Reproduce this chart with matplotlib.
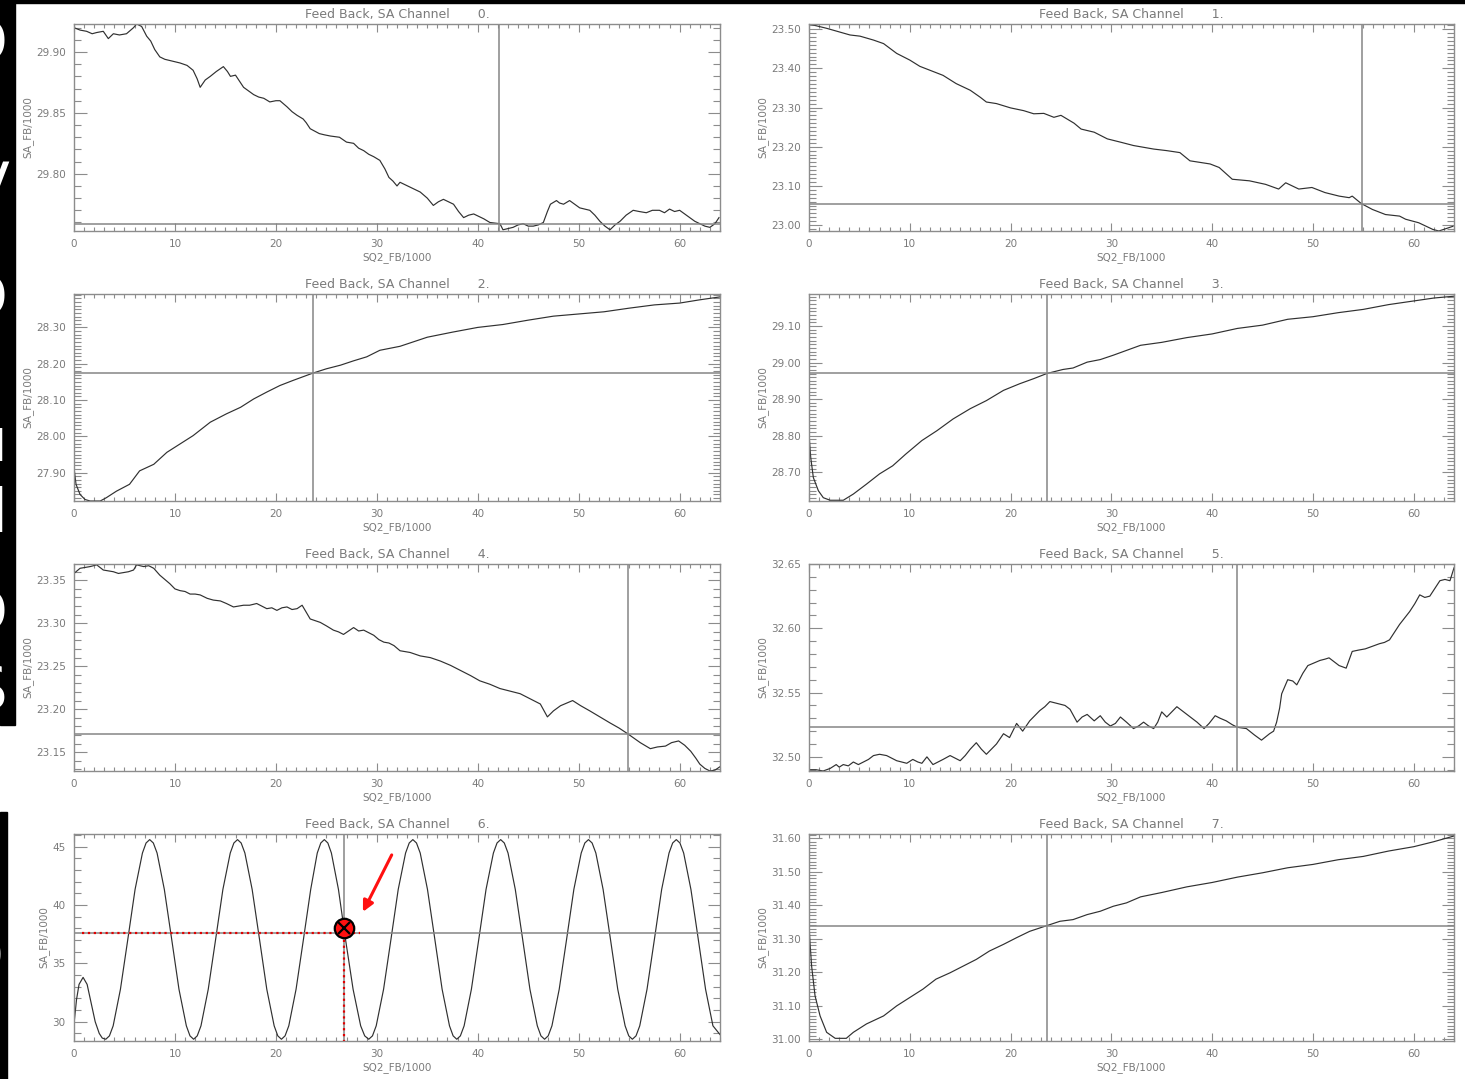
import matplotlib
matplotlib.use("Agg")
import matplotlib.pyplot as plt
from matplotlib.ticker import MultipleLocator, FormatStrFormatter
from matplotlib.patches import Rectangle

# read-off points (SQ2_FB/1000, SA_FB/1000) for each channel
channel0 = [(0, 29.920), (0.6, 29.918), (1.25, 29.917), (1.8, 29.915), (2.25, 29.916), (2.9, 29.917),
            (3.4, 29.911), (3.9, 29.915), (4.5, 29.914), (5.2, 29.915), (5.9, 29.920), (6.2, 29.923),
            (6.7, 29.921), (7.2, 29.913), (7.6, 29.909), (8.0, 29.902), (8.5, 29.896), (9.0, 29.894),
            (9.5, 29.893), (10.0, 29.892), (10.5, 29.891), (11.2, 29.889), (11.8, 29.885), (12.2, 29.878),
            (12.5, 29.871), (13.0, 29.877), (13.5, 29.880), (14.1, 29.884), (14.8, 29.888), (15.2, 29.884),
            (15.5, 29.880), (16.0, 29.881), (16.4, 29.876), (16.8, 29.871), (17.3, 29.868), (17.8, 29.865),
            (18.3, 29.863), (18.8, 29.862), (19.4, 29.859), (20.0, 29.860), (20.4, 29.860), (21.1, 29.855),
            (21.6, 29.851), (22.1, 29.848), (22.7, 29.845), (23.0, 29.842), (23.4, 29.837), (24.3, 29.833),
            (24.8, 29.832), (25.4, 29.831), (26.3, 29.830), (27.0, 29.826), (27.7, 29.825), (28.2, 29.821),
            (28.7, 29.819), (29.2, 29.816), (29.7, 29.814), (30.3, 29.811), (30.8, 29.804), (31.2, 29.797),
            (31.6, 29.794), (32.0, 29.790), (32.3, 29.793), (32.8, 29.791), (33.3, 29.789), (34.3, 29.785),
            (35.0, 29.780), (35.6, 29.774), (36.1, 29.777), (36.6, 29.779), (37.1, 29.777), (37.6, 29.775),
            (38.1, 29.769), (38.6, 29.764), (39.1, 29.766), (39.6, 29.767), (40.1, 29.765), (40.6, 29.763),
            (41.2, 29.760), (42.2, 29.759), (42.5, 29.754), (43.0, 29.755), (43.5, 29.756), (44.0, 29.758),
            (44.5, 29.759), (45.0, 29.757), (45.5, 29.757), (46.0, 29.758), (46.5, 29.760), (46.9, 29.769),
            (47.2, 29.775), (47.8, 29.778), (48.1, 29.776), (48.5, 29.775), (49.1, 29.778), (49.6, 29.775),
            (50.1, 29.772), (50.6, 29.771), (51.1, 29.770), (51.6, 29.766), (52.1, 29.761), (52.6, 29.757),
            (53.1, 29.754), (53.6, 29.758), (54.1, 29.761), (54.7, 29.766), (55.4, 29.770), (56.0, 29.769),
            (56.7, 29.768), (57.3, 29.770), (58.0, 29.770), (58.5, 29.768), (59.0, 29.771), (59.5, 29.769),
            (60.0, 29.770), (60.5, 29.767), (61.0, 29.764), (61.5, 29.761), (62.0, 29.759), (62.5, 29.757),
            (63.0, 29.756), (63.5, 29.759), (63.9, 29.764)]

channel1 = [(0, 23.513), (1.75, 23.502), (4.07, 23.485), (5.06, 23.482), (6.4, 23.472), (7.4, 23.463),
            (8.7, 23.438), (10.0, 23.421), (11.0, 23.405), (12.0, 23.395), (13.3, 23.382), (14.6, 23.361),
            (16.0, 23.344), (17.0, 23.326), (17.6, 23.314), (18.6, 23.310), (20.0, 23.299), (21.3, 23.292),
            (22.3, 23.284), (23.3, 23.285), (24.3, 23.275), (25.0, 23.280), (26.3, 23.260), (27.0, 23.245),
            (28.3, 23.237), (29.6, 23.220), (31.0, 23.211), (32.2, 23.203), (34.2, 23.194), (35.5, 23.190),
            (36.8, 23.185), (37.8, 23.164), (39.8, 23.156), (40.7, 23.147), (42.0, 23.117), (43.7, 23.113),
            (45.3, 23.104), (46.6, 23.092), (47.3, 23.108), (48.6, 23.092), (49.9, 23.096), (51.2, 23.083),
            (52.6, 23.074), (53.6, 23.070), (53.9, 23.074), (54.8, 23.055), (55.9, 23.040), (57.2, 23.027),
            (58.6, 23.023), (59.2, 23.015), (60.5, 23.006), (61.9, 22.989), (62.5, 22.985), (63.9, 22.997)]

channel2 = [(0, 27.914), (0.2, 27.868), (0.6, 27.840), (1.1, 27.826), (1.6, 27.822), (2.6, 27.822),
            (3.2, 27.831), (4.2, 27.849), (5.5, 27.868), (6.5, 27.905), (7.9, 27.923), (9.2, 27.956),
            (10.5, 27.979), (11.8, 28.002), (13.5, 28.039), (15.1, 28.062), (16.5, 28.080), (17.8, 28.103),
            (19.1, 28.122), (20.4, 28.140), (21.7, 28.154), (23.65, 28.174), (25.0, 28.186), (26.4, 28.196),
            (27.7, 28.208), (29.0, 28.219), (30.3, 28.237), (32.3, 28.248), (35.0, 28.273), (37.5, 28.287),
            (40.0, 28.300), (42.5, 28.308), (45.0, 28.320), (47.5, 28.331), (50.0, 28.337), (52.5, 28.343),
            (55.0, 28.353), (57.5, 28.362), (60.0, 28.367), (62.0, 28.376), (64.0, 28.384)]

channel3 = [(0, 28.805), (0.17, 28.741), (0.43, 28.686), (0.93, 28.650), (1.42, 28.631), (2.1, 28.624),
            (3.4, 28.624), (4.4, 28.641), (5.7, 28.668), (7.0, 28.696), (8.3, 28.718), (9.6, 28.750),
            (11.2, 28.787), (12.7, 28.814), (14.3, 28.846), (16.0, 28.874), (17.6, 28.896), (19.3, 28.924),
            (20.9, 28.942), (22.3, 28.956), (23.6, 28.970), (25.2, 28.981), (26.2, 28.985), (27.6, 29.001),
            (28.9, 29.008), (30.2, 29.020), (31.5, 29.033), (32.9, 29.047), (35.0, 29.055), (37.5, 29.068),
            (40.0, 29.078), (42.5, 29.093), (45.0, 29.102), (47.5, 29.118), (50.0, 29.125), (52.5, 29.136),
            (55.0, 29.145), (57.5, 29.158), (60.0, 29.168), (62.0, 29.176), (64.0, 29.181)]

channel4 = [(0, 23.358), (0.6, 23.364), (1.6, 23.366), (2.25, 23.368), (2.9, 23.362), (3.4, 23.361),
            (3.9, 23.360), (4.4, 23.358), (4.9, 23.359), (5.4, 23.360), (5.9, 23.362), (6.2, 23.368),
            (6.9, 23.366), (7.4, 23.367), (7.9, 23.364), (8.5, 23.356), (9.0, 23.351), (9.5, 23.346),
            (10.0, 23.340), (10.5, 23.338), (11.0, 23.337), (11.5, 23.334), (12.0, 23.334), (12.5, 23.333),
            (13.2, 23.329), (13.8, 23.327), (14.5, 23.326), (15.1, 23.323), (15.8, 23.319), (16.3, 23.320),
            (16.8, 23.321), (17.4, 23.321), (18.1, 23.323), (18.6, 23.320), (19.1, 23.317), (19.6, 23.318),
            (20.1, 23.315), (20.6, 23.318), (21.1, 23.319), (21.6, 23.316), (22.1, 23.317), (22.6, 23.321),
            (23.0, 23.313), (23.4, 23.305), (23.9, 23.303), (24.4, 23.301), (25.0, 23.297), (25.7, 23.292),
            (26.2, 23.290), (26.7, 23.287), (27.2, 23.291), (27.7, 23.295), (28.2, 23.291), (28.7, 23.292),
            (29.2, 23.289), (29.7, 23.286), (30.2, 23.281), (30.7, 23.278), (31.2, 23.277), (31.7, 23.274),
            (32.3, 23.268), (33.3, 23.266), (34.3, 23.262), (35.3, 23.260), (36.3, 23.256), (37.3, 23.251),
            (38.3, 23.245), (39.3, 23.239), (40.2, 23.233), (41.2, 23.229), (42.2, 23.224), (43.2, 23.221),
            (44.2, 23.218), (45.2, 23.212), (46.2, 23.206), (46.9, 23.191), (47.5, 23.198), (48.2, 23.204),
            (48.8, 23.207), (49.4, 23.210), (50.2, 23.204), (51.1, 23.198), (52.1, 23.191), (53.1, 23.184),
            (54.0, 23.178), (54.9, 23.171), (55.5, 23.166), (56.1, 23.161), (57.1, 23.154), (57.8, 23.156),
            (58.6, 23.157), (59.2, 23.161), (59.9, 23.163), (60.5, 23.158), (61.1, 23.151), (61.6, 23.143),
            (62.0, 23.136), (62.5, 23.131), (63.0, 23.128), (63.5, 23.129), (64.0, 23.133)]

channel5 = [(0, 32.490), (0.7, 32.490), (1.4, 32.489), (2.1, 32.491), (2.7, 32.494), (3.0, 32.492),
            (3.4, 32.494), (3.9, 32.493), (4.4, 32.496), (4.9, 32.494), (5.4, 32.496), (5.9, 32.498),
            (6.4, 32.501), (7.0, 32.502), (7.7, 32.501), (8.2, 32.499), (8.7, 32.497), (9.2, 32.496),
            (9.7, 32.495), (10.3, 32.498), (10.8, 32.496), (11.2, 32.495), (11.7, 32.500), (12.3, 32.494),
            (12.8, 32.496), (13.3, 32.498), (14.0, 32.501), (14.5, 32.499), (15.0, 32.497), (15.5, 32.501),
            (16.0, 32.506), (16.6, 32.511), (17.1, 32.506), (17.6, 32.502), (18.1, 32.506), (18.6, 32.510),
            (19.3, 32.518), (19.9, 32.515), (20.6, 32.526), (21.2, 32.520), (21.9, 32.528), (22.4, 32.532),
            (22.9, 32.536), (23.4, 32.539), (23.9, 32.543), (24.4, 32.542), (24.9, 32.541), (25.4, 32.540),
            (25.9, 32.537), (26.6, 32.527), (27.1, 32.531), (27.6, 32.533), (28.3, 32.528), (28.9, 32.532),
            (29.4, 32.527), (29.9, 32.524), (30.4, 32.526), (30.9, 32.531), (31.5, 32.527), (32.2, 32.522),
            (32.7, 32.524), (33.2, 32.527), (33.7, 32.524), (34.2, 32.522), (34.6, 32.527), (35.0, 32.535),
            (35.5, 32.531), (36.0, 32.535), (36.5, 32.539), (37.0, 32.536), (37.5, 32.533), (38.0, 32.530),
            (38.5, 32.527), (39.2, 32.522), (39.7, 32.526), (40.3, 32.532), (40.8, 32.530), (41.4, 32.528),
            (42.0, 32.525), (42.5, 32.523), (43.4, 32.522), (44.2, 32.517), (44.9, 32.513), (45.7, 32.518),
            (46.1, 32.520), (46.4, 32.527), (46.7, 32.538), (46.9, 32.549), (47.5, 32.560), (48.0, 32.559),
            (48.4, 32.556), (49.0, 32.565), (49.5, 32.571), (50.1, 32.573), (50.7, 32.575), (51.2, 32.576),
            (51.6, 32.577), (52.1, 32.574), (52.6, 32.571), (53.3, 32.569), (53.9, 32.582), (54.5, 32.583),
            (55.2, 32.584), (55.9, 32.586), (56.6, 32.588), (57.1, 32.589), (57.6, 32.591), (58.1, 32.597),
            (58.6, 32.603), (59.1, 32.608), (59.6, 32.613), (60.1, 32.619), (60.6, 32.626), (61.1, 32.624),
            (61.6, 32.625), (62.1, 32.631), (62.6, 32.637), (63.1, 32.638), (63.6, 32.637), (64.0, 32.647)]

channel6 = [(0, 29.8), (0.25, 31.9), (0.5, 33.2), (0.9, 33.8), (1.3, 33.2), (1.7, 31.6), (2.1, 30.0),
            (2.5, 29.0), (2.8, 28.6), (3.15, 28.5), (3.51, 28.79), (3.88, 29.65), (4.6, 32.78),
            (5.33, 37.05), (6.05, 41.33), (6.78, 44.45), (7.14, 45.31), (7.5, 45.6), (7.86, 45.31),
            (8.23, 44.45), (8.95, 41.33), (9.68, 37.05), (10.4, 32.78), (11.13, 29.65), (11.49, 28.79),
            (11.85, 28.5), (12.21, 28.79), (12.58, 29.65), (13.3, 32.78), (14.03, 37.05), (14.75, 41.33),
            (15.48, 44.45), (15.84, 45.31), (16.2, 45.6), (16.56, 45.31), (16.93, 44.45), (17.65, 41.33),
            (18.38, 37.05), (19.1, 32.78), (19.83, 29.65), (20.19, 28.79), (20.55, 28.5), (20.91, 28.79),
            (21.28, 29.65), (22.0, 32.78), (22.73, 37.05), (23.45, 41.33), (24.1, 44.45), (24.45, 45.31),
            (24.8, 45.6), (25.15, 45.31), (25.5, 44.45), (26.2, 41.33), (26.9, 37.05), (27.65, 32.78),
            (28.4, 29.65), (28.8, 28.79), (29.2, 28.5), (29.57, 28.79), (29.94, 29.65), (30.67, 32.78),
            (31.4, 37.05), (32.12, 41.33), (32.85, 44.45), (33.21, 45.31), (33.57, 45.6), (33.93, 45.31),
            (34.3, 44.45), (35.02, 41.33), (35.75, 37.05), (36.47, 32.78), (37.2, 29.65), (37.56, 28.79),
            (37.92, 28.5), (38.28, 28.79), (38.65, 29.65), (39.37, 32.78), (40.1, 37.05), (40.82, 41.33),
            (41.55, 44.45), (41.91, 45.31), (42.27, 45.6), (42.63, 45.31), (43.0, 44.45), (43.72, 41.33),
            (44.45, 37.05), (45.17, 32.78), (45.9, 29.65), (46.26, 28.79), (46.62, 28.5), (46.98, 28.79),
            (47.35, 29.65), (48.07, 32.78), (48.8, 37.05), (49.52, 41.33), (50.25, 44.45), (50.61, 45.31),
            (50.97, 45.6), (51.33, 45.31), (51.7, 44.45), (52.42, 41.33), (53.15, 37.05), (53.87, 32.78),
            (54.6, 29.65), (54.96, 28.79), (55.32, 28.5), (55.68, 28.79), (56.05, 29.65), (56.77, 32.78),
            (57.5, 37.05), (58.22, 41.33), (58.95, 44.45), (59.31, 45.31), (59.67, 45.6), (60.03, 45.31),
            (60.4, 44.45), (61.12, 41.33), (61.85, 37.05), (62.57, 32.78), (63.3, 29.65), (64.0, 28.9)]

channel7 = [(0, 31.342), (0.1, 31.288), (0.26, 31.218), (0.6, 31.129), (1.1, 31.069), (1.75, 31.020),
            (2.6, 31.002), (3.7, 31.002), (4.4, 31.020), (5.7, 31.045), (7.4, 31.069), (8.7, 31.099),
            (10.0, 31.124), (11.3, 31.149), (12.6, 31.179), (14.0, 31.198), (15.3, 31.218), (16.6, 31.238),
            (17.9, 31.263), (19.3, 31.283), (20.6, 31.303), (21.9, 31.322), (23.6, 31.339), (24.9, 31.352),
            (26.2, 31.357), (27.6, 31.372), (28.9, 31.382), (30.2, 31.397), (31.5, 31.407), (32.9, 31.425),
            (35.0, 31.438), (37.5, 31.455), (40.0, 31.468), (42.5, 31.484), (45.0, 31.497), (47.5, 31.512),
            (50.0, 31.522), (52.5, 31.536), (55.0, 31.546), (57.5, 31.562), (60.0, 31.575), (62.0, 31.590),
            (64.0, 31.607)]

channels = [channel0, channel1, channel2, channel3, channel4, channel5, channel6, channel7]

# y range, major / minor tick step, horizontal cursor level, vertical cursor position
yRanges = [(29.753, 29.923), (22.985, 23.513), (27.822, 28.392), (28.622, 29.187),
           (23.128, 23.369), (32.489, 32.650), (28.35, 46.08), (30.994, 31.613)]
yMajor = [0.05, 0.10, 0.10, 0.10, 0.05, 0.05, 5, 0.10]
yMinor = [0.01, 0.01, 0.01, 0.01, 0.01, 0.01, 1, 0.01]
yFormats = ["%.2f"] * 6 + ["%d", "%.2f"]
hLevels = [29.759, 23.055, 28.174, 28.971, 23.171, 32.523, 37.64, 31.339]
vPositions = [42.1, 54.87, 23.65, 23.58, 54.9, 42.5, 26.78, 23.58]

# red marker on channel 6
markX = 26.78
markY = 38.0
arrowTail = (31.6, 44.5)
arrowHead = (28.5, 39.2)

figW, figH = 1465, 1079
colLefts = [74, 809]
colWidths = [646, 645]
rowTops = [24, 294, 564, 834]
axHeight = 207

textGrey = "#7a7a7a"
axisGrey = "#8c8c8c"

fig = plt.figure(figsize=(figW / 100, figH / 100), dpi=100)


def drawPanel(i):
    row, col = i // 2, i % 2
    left = colLefts[col] / figW
    bottom = 1 - (rowTops[row] + axHeight) / figH
    ax = fig.add_axes([left, bottom, colWidths[col] / figW, axHeight / figH])

    xs = [p[0] for p in channels[i]]
    ys = [p[1] for p in channels[i]]
    ax.plot(xs, ys, color="#303030", lw=0.85)
    ax.axhline(hLevels[i], color="#858585", lw=1.1)
    ax.axvline(vPositions[i], color="#858585", lw=1.1)

    ax.set_xlim(0, 64)
    ax.set_ylim(*yRanges[i])
    ax.xaxis.set_major_locator(MultipleLocator(10))
    ax.xaxis.set_minor_locator(MultipleLocator(1))
    ax.yaxis.set_major_locator(MultipleLocator(yMajor[i]))
    ax.yaxis.set_minor_locator(MultipleLocator(yMinor[i]))
    ax.yaxis.set_major_formatter(FormatStrFormatter(yFormats[i]))
    ax.xaxis.set_major_formatter(FormatStrFormatter("%d"))

    ax.tick_params(which="both", direction="in", top=True, right=True,
                   color=axisGrey, labelcolor=textGrey, labelsize=7.5, width=0.8)
    ax.tick_params(axis="y", which="major", length=9, pad=6)
    ax.tick_params(axis="y", which="minor", length=5)
    ax.tick_params(axis="x", which="major", length=6, pad=6)
    ax.tick_params(axis="x", which="minor", length=3)
    for spine in ax.spines.values():
        spine.set_color(axisGrey)
        spine.set_linewidth(1.0)

    ax.set_title("Feed Back, SA Channel       %d." % i, fontsize=9, color=textGrey, pad=4)
    ax.set_xlabel("SQ2_FB/1000", fontsize=7.5, color=textGrey, labelpad=2)
    ax.set_ylabel("SA_FB/1000", fontsize=7.5, color=textGrey, labelpad=2)
    return ax


axes = [drawPanel(i) for i in range(8)]

# annotation on channel 6
ax6 = axes[6]
ax6.plot([0.8, 28.3], [hLevels[6], hLevels[6]], color="#e00000", ls=":", lw=1.6)
ax6.plot([markX, markX], [markY, yRanges[6][0]], color="#e00000", ls=":", lw=1.6)
ax6.plot(markX, markY, "o", ms=14, mfc="#ff1010", mec="black", mew=1.6, zorder=5)
ax6.plot(markX, markY, "x", ms=8, mec="black", mew=1.6, zorder=6)
ax6.annotate("", xy=arrowHead, xytext=arrowTail,
             arrowprops=dict(arrowstyle="-|>", color="#ff1010", lw=2.2, mutation_scale=16))

# black band on the left and top edge (cropped slide)
fig.patches.append(Rectangle((0, 1 - 725 / figH), 15 / figW, 725 / figH,
                             transform=fig.transFigure, color="black", zorder=0))
fig.patches.append(Rectangle((0, 0), 7 / figW, 1 - 812 / figH,
                             transform=fig.transFigure, color="black", zorder=0))
fig.patches.append(Rectangle((0, 1 - 3 / figH), 1, 3 / figH,
                             transform=fig.transFigure, color="black", zorder=0))

leftGlyphs = [("D", 45, 8), ("V", 190, 9), ("D", 300, 8), ("u", 445, 8), ("l", 515, 7),
              ("D", 615, 8), ("S", 692, 8), ("D", 960, 4)]
for glyph, yPix, xPix in leftGlyphs:
    fig.text(xPix / figW, 1 - yPix / figH, glyph, color="white", fontsize=44,
             ha="right", va="center")

fig.savefig("out.png", dpi=100)
